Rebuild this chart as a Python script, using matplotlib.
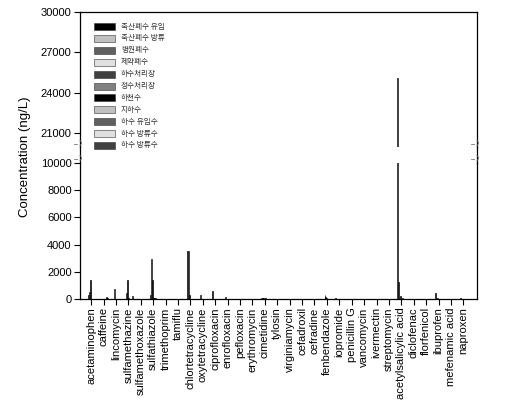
import numpy as np
import matplotlib
matplotlib.use("Agg")
import matplotlib.pyplot as plt
from matplotlib.lines import Line2D

plt.rcParams['font.family'] = ['Liberation Sans', 'Noto Sans CJK KR', 'DejaVu Sans']

compounds = ["acetaminophen", "caffeine", "lincomycin", "sulfamethazine", "sulfamethoxazole",
             "sulfathiazole", "trimethoprim", "tamiflu", "chlortetracycline", "oxytetracycline",
             "ciprofloxacin", "enrofloxacin", "pefloxacin", "erythromycin", "cimetidine",
             "tylosin", "virginiamycin", "cefadroxil", "cefradine", "fenbendazole",
             "iopromide", "penicillin G", "vancomycin", "ivermectin", "streptomycin",
             "acetylsalicylic acid", "diclofenac", "florfenicol", "ibuprofen", "mefenamic acid",
             "naproxen"]

site_labels = ["축산폐수 유입", "축산폐수 방류", "병원폐수", "제약폐수", "하수처리장",
               "정수처리장", "하천수", "지하수", "하수 유입수", "하수 방류수", "하수 방류수"]

# concentrations (ng/L), one list per site, order = compounds
s0 = [0]*31
s1 = [0, 0, 0, 0, 0, 0, 0, 0, 0, 0, 0, 0, 0, 0, 80, 0, 0, 0, 0, 0, 100, 0, 0, 0, 0, 25100, 0, 0, 0, 0, 0]
s2 = [300, 0, 0, 0, 0, 270, 0, 0, 3550, 0, 560, 0, 0, 0, 60, 0, 0, 0, 0, 0, 0, 0, 0, 0, 0, 1220, 0, 0, 410, 0, 100]
s3 = [485, 0, 760, 420, 0, 2960, 0, 0, 3500, 260, 0, 180, 0, 0, 0, 0, 0, 0, 0, 330, 0, 0, 0, 0, 0, 0, 0, 0, 0, 0, 0]
s4 = [1370, 0, 0, 1420, 0, 1370, 0, 0, 290, 0, 0, 0, 0, 0, 80, 0, 0, 0, 0, 150, 0, 0, 0, 0, 0, 200, 0, 0, 80, 0, 0]
s5 = [0, 0, 0, 80, 0, 100, 0, 0, 0, 0, 0, 0, 0, 0, 0, 0, 0, 0, 0, 100, 0, 0, 0, 0, 0, 0, 0, 0, 0, 0, 0]
s6 = [0, 0, 0, 0, 0, 80, 0, 0, 0, 0, 0, 0, 0, 0, 70, 0, 0, 0, 0, 0, 0, 0, 0, 0, 0, 80, 0, 0, 0, 0, 0]
s7 = [0, 0, 0, 0, 0, 80, 0, 0, 0, 0, 0, 0, 0, 0, 0, 0, 0, 0, 0, 0, 0, 0, 0, 0, 0, 0, 0, 0, 0, 0, 0]
s8 = [0, 120, 0, 0, 0, 0, 0, 0, 0, 0, 0, 0, 0, 0, 0, 0, 0, 0, 0, 0, 0, 0, 0, 0, 0, 0, 0, 0, 0, 0, 0]
s9 = [0, 100, 0, 240, 0, 0, 0, 0, 0, 0, 0, 0, 0, 0, 0, 0, 0, 0, 0, 0, 0, 0, 0, 0, 0, 0, 0, 0, 0, 0, 0]
s10 = [0]*31
series = [s0, s1, s2, s3, s4, s5, s6, s7, s8, s9, s10]

colors = ['#000000', '#c0c0c0', '#606060', '#e0e0e0', '#404040', '#808080',
          '#000000', '#c0c0c0', '#606060', '#e0e0e0', '#404040']

W, H = 508, 413
fig = plt.figure(figsize=(W/100, H/100), dpi=100)

def ax_rect(x0, y0, x1, y1):
    # pixel box (top-left origin) -> figure fraction rect
    return [x0/W, 1 - y1/H, (x1 - x0)/W, (y1 - y0)/H]

ax_top = fig.add_axes(ax_rect(80, 12, 477, 147))
ax_bot = fig.add_axes(ax_rect(80, 163, 477, 299))

x = np.arange(len(compounds))
bw = 0.075
for ax in (ax_top, ax_bot):
    for i, vals in enumerate(series):
        v = np.array(vals, dtype=float)
        m = v > 0
        ax.bar(x[m] + (i - 5)*bw, v[m], width=bw, color=colors[i],
               edgecolor='black', linewidth=0.5)
    ax.set_xlim(-0.9, 31.1)
    ax.tick_params(axis='y', direction='out', length=4, width=0.8, labelsize=8, pad=2, right=False)
    for sp in ax.spines.values():
        sp.set_linewidth(0.9)

ax_top.set_ylim(20000, 30000)
ax_top.set_yticks([21000, 24000, 27000, 30000])
ax_top.spines['bottom'].set_visible(False)
ax_top.tick_params(axis='x', bottom=False, labelbottom=False)

ax_bot.set_ylim(0, 10000)
ax_bot.set_yticks([0, 2000, 4000, 6000, 8000, 10000])
ax_bot.spines['top'].set_visible(False)
ax_bot.set_xticks(x)
ax_bot.set_xticklabels(compounds, rotation=90, fontsize=8)
ax_bot.tick_params(axis='x', direction='out', length=4, width=0.8, pad=2)

# continuous side spines across the break, plus small break marks
t = np.linspace(-1.2, 1.2, 20)
for px in (80, 477):
    fig.add_artist(Line2D([px/W, px/W], [1 - 147/H, 1 - 163/H], color='black', lw=0.9))
    for py in (143, 158):
        fig.add_artist(Line2D((px - 1 + 2.5*np.cos(t)) / W, 1 - (py + 2.5*np.sin(t)) / H,
                              color='#777777', lw=0.6))
        fig.add_artist(Line2D([(px - 6)/W, (px - 3)/W], [1 - (py + 1)/H, 1 - (py + 1)/H],
                              color='#777777', lw=0.6))

fig.text(25/W, 1 - 157/H, "Concentration (ng/L)", rotation=90, fontsize=9.5,
         ha='center', va='center')

# legend
for i, lab in enumerate(site_labels):
    y = 23 + i*11.9
    fig.add_artist(plt.Rectangle((94/W, 1 - (y + 7)/H), 21/W, 7/H, transform=fig.transFigure,
                                 facecolor=colors[i], edgecolor='#333333', lw=0.4))
    fig.text(121/W, 1 - (y + 3.5)/H, lab, fontsize=5.5, va='center', ha='left',
             family=['Noto Sans CJK KR', 'DejaVu Sans'], color='#333333')

fig.savefig("out.png", dpi=100)
